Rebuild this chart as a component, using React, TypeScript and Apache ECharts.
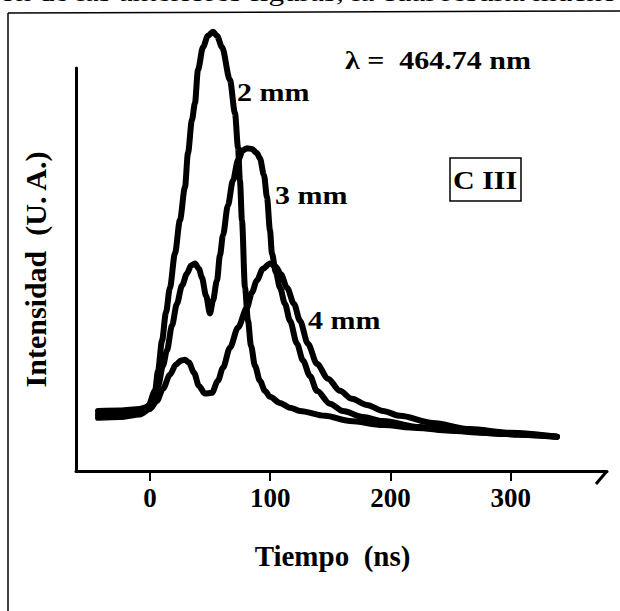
import { useEffect, useRef } from "react";
import * as echarts from "echarts";

// Time (ns) and relative intensity (U. A.) for each distance from the target
const time2mm = [-43.2, -24.9, -8.3, -1.7, 4.2, 6.7, 10.0, 13.3, 16.6, 20.8, 24.9, 29.1, 31.6, 34.9, 37.4, 39.9, 44.1, 48.2, 52.4, 55.7, 59.9, 66.5, 70.7, 73.2, 74.8, 76.5, 79.0, 81.5, 84.0, 87.3, 91.4, 95.6, 99.8, 108.1, 116.4, 124.7, 145.5, 166.3, 193.7, 221.9, 249.4, 276.8, 307.6, 338.3];
const intensity2mm = [14.9, 15.0, 15.4, 15.9, 19.9, 24.9, 32.3, 39.3, 45.5, 54.0, 62.2, 70.4, 78.9, 87.1, 91.3, 99.5, 105.2, 108.0, 109.0, 108.0, 105.2, 97.0, 88.8, 80.3, 72.1, 62.2, 45.5, 37.3, 31.1, 26.1, 22.4, 19.9, 18.4, 16.9, 15.7, 14.9, 13.7, 12.4, 11.4, 10.7, 10.0, 9.5, 9.0, 8.5];

const time3mm = [-43.2, -24.9, -8.3, 0, 6.7, 10.8, 14.1, 18.3, 22.4, 26.6, 30.8, 34.1, 37.4, 40.7, 43.2, 46.6, 49.9, 52.4, 55.7, 58.2, 60.7, 64.8, 69.0, 73.2, 77.3, 80.6, 84.8, 88.9, 91.4, 94.8, 97.3, 99.8, 101.4, 104.7, 108.1, 112.2, 116.4, 122.2, 127.2, 133.0, 138.8, 149.6, 160.4, 177.1, 193.7, 224.4, 257.7, 290.9, 338.3];
const intensity3mm = [14.0, 14.2, 14.7, 16.4, 21.1, 26.1, 29.9, 36.1, 41.5, 46.0, 49.0, 51.0, 51.5, 50.2, 48.0, 43.5, 39.1, 42.3, 47.3, 53.5, 58.5, 65.9, 72.1, 77.1, 79.6, 80.1, 79.9, 78.9, 77.6, 73.4, 67.9, 59.7, 54.0, 49.3, 45.5, 41.5, 37.3, 31.6, 27.4, 23.6, 19.9, 16.7, 14.9, 13.4, 12.4, 10.9, 10.0, 9.2, 8.5];

const time4mm = [-43.2, -24.9, -8.3, 0, 5.8, 10.8, 16.6, 21.6, 25.8, 29.1, 32.4, 36.6, 40.7, 45.7, 51.5, 56.5, 60.7, 66.5, 73.2, 80.6, 84.8, 88.9, 93.9, 99.8, 104.7, 108.9, 113.9, 119.7, 124.7, 131.3, 138.8, 148.0, 157.9, 167.9, 180.4, 193.7, 207.8, 235.2, 266.0, 299.3, 338.3];
const intensity4mm = [13.2, 13.4, 14.0, 15.4, 17.4, 20.4, 23.9, 26.4, 27.4, 27.6, 26.9, 24.4, 21.1, 19.2, 19.4, 22.4, 25.6, 30.6, 35.6, 40.5, 44.3, 47.3, 50.2, 51.5, 50.7, 48.8, 45.5, 41.5, 37.3, 31.6, 26.6, 22.9, 19.9, 17.9, 16.4, 14.9, 13.7, 11.9, 10.4, 9.5, 8.5];

const timeTicks = [0, 100, 200, 300];
const curveNames = ["2 mm", "3 mm", "4 mm"];
const wavelengthText = "λ =  464.74 nm";
const ionText = "C III";
const xTitle = "Tiempo  (ns)";
const yTitle = "Intensidad  (U. A.)";
const pageLine = "ón de las anteriores figuras, la cual resulta mucho";

const SERIF = "'Liberation Serif', 'Times New Roman', serif";
const INK = "#000";

function pairs(t: number[], v: number[]) {
  return t.map((x, i) => [x, v[i]]);
}

export default function App() {
  const ref = useRef<HTMLDivElement>(null);

  useEffect(() => {
    if (!ref.current) return;
    const chart = echarts.init(ref.current, null, { renderer: "svg" });

    const curves = [
      pairs(time2mm, intensity2mm),
      pairs(time3mm, intensity3mm),
      pairs(time4mm, intensity4mm),
    ];

    const label = (text: string, x: number, y: number) => ({
      type: "text",
      x,
      y,
      scaleX: 1.2,
      style: {
        text,
        font: `bold 25px ${SERIF}`,
        fill: INK,
        align: "left",
        verticalAlign: "middle",
      },
    });

    chart.setOption({
      animation: false,
      backgroundColor: "#fff",
      grid: { left: 76, right: 13, top: 68, bottom: 140 },
      xAxis: {
        type: "value",
        min: -61.5,
        max: 380,
        axisLine: { show: true, onZero: false, lineStyle: { color: INK, width: 3 } },
        axisTick: {
          show: true,
          customValues: timeTicks,
          length: 10,
          lineStyle: { color: INK, width: 2 },
        },
        axisLabel: {
          customValues: timeTicks,
          color: INK,
          fontFamily: SERIF,
          fontWeight: "bold",
          fontSize: 27,
          margin: 13,
        },
        splitLine: { show: false },
        name: xTitle,
        nameLocation: "middle",
        nameGap: 70,
        nameTextStyle: {
          color: INK,
          fontFamily: SERIF,
          fontWeight: "bold",
          fontSize: 29,
          padding: [0, 18, 0, 0],
        },
      },
      yAxis: {
        type: "value",
        min: 0,
        max: 100,
        axisLine: { show: true, onZero: false, lineStyle: { color: INK, width: 3 } },
        axisTick: { show: false },
        axisLabel: { show: false },
        splitLine: { show: false },
        name: yTitle,
        nameLocation: "middle",
        nameRotate: 90,
        nameGap: 26,
        nameTextStyle: { color: INK, fontFamily: SERIF, fontWeight: "bold", fontSize: 30 },
      },
      series: curves.map((data, i) => ({
        name: curveNames[i],
        type: "line",
        data,
        showSymbol: false,
        smooth: 0.3,
        smoothMonotone: "x",
        clip: false,
        lineStyle: { color: INK, width: 6, cap: "round", join: "round" },
      })),
      graphic: [
        // page frame and the line of text running above it
        { type: "line", shape: { x1: 8, y1: 13, x2: 8, y2: 611 }, style: { stroke: INK, lineWidth: 1.5 } },
        { type: "line", shape: { x1: 8, y1: 13, x2: 620, y2: 11 }, style: { stroke: INK, lineWidth: 1.5 } },
        {
          type: "text",
          x: 0,
          y: 5,
          scaleX: 1.2,
          style: { text: pageLine, font: `26px ${SERIF}`, fill: INK, align: "left", verticalAlign: "bottom" },
        },
        // slanted stroke closing the time axis
        { type: "line", shape: { x1: 607, y1: 471, x2: 596, y2: 484 }, style: { stroke: INK, lineWidth: 3 } },
        label(curveNames[0], 237, 92),
        label(curveNames[1], 275, 195),
        label(curveNames[2], 308, 320),
        label(wavelengthText, 345, 60),
        { type: "rect", shape: { x: 450, y: 158, width: 71, height: 43 }, style: { fill: "none", stroke: INK, lineWidth: 1.5 } },
        {
          type: "text",
          x: 453,
          y: 180,
          scaleX: 1.2,
          style: { text: ionText, font: `bold 25px ${SERIF}`, fill: INK, align: "left", verticalAlign: "middle" },
        },
      ],
    });

    return () => chart.dispose();
  }, []);

  return (
    <div
      ref={ref}
      style={{ position: "fixed", left: 0, top: 0, width: 620, height: 611, background: "#fff" }}
    />
  );
}
